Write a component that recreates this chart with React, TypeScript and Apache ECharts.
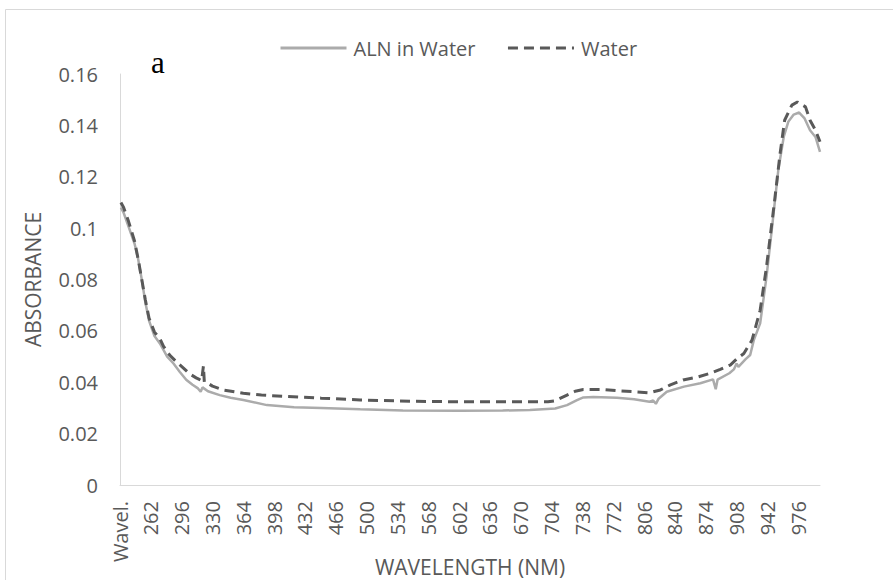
import React, { useEffect, useRef } from "react";
import * as echarts from "echarts";

// Category tick labels (every 34 nm, the first one is the sheet header "Wavel.")
const xTickLabels = [
  "Wavel.", "262", "296", "330", "364", "398", "432", "466", "500", "534", "568",
  "602", "636", "670", "704", "738", "772", "806", "840", "874", "908", "942", "976",
];
const firstTickNm = 228; // position of the "Wavel." category
const tickStepNm = 34;
const lastNm = 1000;

// ALN in Water (solid light grey)
const alnWavelength = [
  229, 232, 238, 244, 248, 252, 256, 260, 266, 272, 280, 287, 294, 301, 308, 314, 317, 319,
  325, 338, 350, 364, 390, 420, 450, 493, 540, 603, 650, 680, 708, 721, 732, 739, 750, 776,
  795, 812, 816, 819, 822, 831, 850, 868, 882, 885, 887, 900, 905, 908, 910, 918, 923, 927,
  934, 941, 948, 954, 960, 965, 971, 977, 983, 989, 995, 1000,
];
const alnAbsorbance = [
  0.108, 0.106, 0.1, 0.094, 0.088, 0.08, 0.071, 0.064, 0.058, 0.0551, 0.05, 0.0473, 0.044,
  0.041, 0.039, 0.0376, 0.0363, 0.038, 0.0365, 0.035, 0.034, 0.0331, 0.0311, 0.0303, 0.03,
  0.0295, 0.029, 0.0289, 0.029, 0.0292, 0.0298, 0.0311, 0.033, 0.0341, 0.0343, 0.034, 0.0334,
  0.0324, 0.0329, 0.0316, 0.0336, 0.0363, 0.0383, 0.0396, 0.0411, 0.0373, 0.041, 0.0435,
  0.045, 0.0473, 0.046, 0.049, 0.0506, 0.0564, 0.0629, 0.081, 0.1031, 0.1226, 0.1355, 0.1414,
  0.1442, 0.145, 0.1427, 0.1381, 0.1355, 0.1297,
];

// Water (dark grey dashed)
const waterWavelength = [
  229, 232, 237, 244, 248, 252, 256, 260, 266, 272, 276, 283, 290, 298, 305, 312, 316, 318,
  320, 321, 324, 330, 342, 364, 384, 410, 450, 493, 550, 600, 650, 700, 708, 721, 730, 739,
  760, 776, 795, 812, 824, 835, 849, 865, 879, 890, 901, 908, 916, 925, 934, 941, 950, 956,
  961, 969, 975, 984, 989, 995, 1000,
];
const waterAbsorbance = [
  0.11, 0.108, 0.1031, 0.095, 0.088, 0.08, 0.072, 0.065, 0.0595, 0.057, 0.054, 0.0505, 0.048,
  0.0455, 0.0432, 0.0417, 0.041, 0.0406, 0.0463, 0.0401, 0.0398, 0.0385, 0.037, 0.0357, 0.035,
  0.0345, 0.0338, 0.0331, 0.0326, 0.0324, 0.0324, 0.0324, 0.0328, 0.035, 0.0365, 0.0372,
  0.0372, 0.0367, 0.0363, 0.0359, 0.037, 0.039, 0.0409, 0.042, 0.0435, 0.045, 0.0467, 0.049,
  0.0512, 0.0564, 0.068, 0.0849, 0.1109, 0.1291, 0.142, 0.1479, 0.1491, 0.1472, 0.142,
  0.1381, 0.1336,
];

const FONT = '"Open Sans", "Liberation Sans", sans-serif';
const TEXT_COLOR = "#595959";

export default function App() {
  const ref = useRef<HTMLDivElement>(null);

  useEffect(() => {
    if (!ref.current) return;
    const chart = echarts.init(ref.current, undefined, { renderer: "svg" });
    const toPairs = (ws: number[], as: number[]) =>
      ws.map((w, i) => [w - firstTickNm, as[i]]);

    chart.setOption({
      animation: false,
      backgroundColor: "#ffffff",
      textStyle: { fontFamily: FONT },
      graphic: [
        {
          type: "rect",
          shape: { x: 5.5, y: 9.5, width: 1200, height: 1200 },
          style: { fill: "none", stroke: "#d9d9d9", lineWidth: 1 },
          silent: true,
        },
        {
          type: "text",
          style: {
            x: 151,
            y: 62,
            text: "a",
            font: '31px "Liberation Serif", serif',
            fill: "#000000",
            verticalAlign: "middle",
          },
        },
      ],
      legend: {
        left: 274,
        top: 33,
        itemWidth: 66,
        itemHeight: 14,
        itemGap: 31,
        itemStyle: { opacity: 0 },
        textStyle: {
          fontFamily: FONT,
          fontSize: 20,
          color: TEXT_COLOR,
          padding: [0, 0, 0, 2],
        },
        data: [
          { name: "ALN in Water", lineStyle: { width: 3, color: "#ababab" } },
          { name: "Water", lineStyle: { width: 3, color: "#595959", type: [10, 6] } },
        ],
      },
      grid: {
        left: 120,
        right: 73,
        top: 74,
        bottom: 95,
        containLabel: false,
        outerBoundsMode: "none",
      },
      xAxis: {
        type: "value",
        min: 0,
        max: lastNm - firstTickNm,
        interval: tickStepNm,
        name: "WAVELENGTH (NM)",
        nameLocation: "middle",
        nameGap: 71,
        nameMoveOverlap: false,
        nameTextStyle: { fontFamily: FONT, fontSize: 21, color: TEXT_COLOR },
        axisLine: { show: true, lineStyle: { color: "#d9d9d9", width: 1 } },
        axisTick: { show: false },
        splitLine: { show: false },
        axisLabel: {
          rotate: 90,
          margin: 16,
          fontFamily: FONT,
          fontSize: 20,
          color: TEXT_COLOR,
          showMaxLabel: false,
          formatter: (v: number) => {
            const idx = Math.round(v / tickStepNm);
            return Math.abs(idx * tickStepNm - v) < 0.01 && xTickLabels[idx] !== undefined
              ? xTickLabels[idx]
              : "";
          },
        },
      },
      yAxis: {
        type: "value",
        min: 0,
        max: 0.16,
        interval: 0.02,
        name: "ABSORBANCE",
        nameLocation: "middle",
        nameGap: 77,
        nameMoveOverlap: false,
        nameTextStyle: { fontFamily: FONT, fontSize: 21, color: TEXT_COLOR },
        axisLine: { show: true, lineStyle: { color: "#d9d9d9", width: 1 } },
        axisTick: { show: false },
        splitLine: { show: false },
        axisLabel: {
          margin: 22,
          fontFamily: FONT,
          fontSize: 20,
          color: TEXT_COLOR,
        },
      },
      series: [
        {
          name: "ALN in Water",
          type: "line",
          symbol: "none",
          data: toPairs(alnWavelength, alnAbsorbance),
          lineStyle: { color: "#ababab", width: 2.5 },
          itemStyle: { color: "#ababab" },
        },
        {
          name: "Water",
          type: "line",
          symbol: "none",
          data: toPairs(waterWavelength, waterAbsorbance),
          lineStyle: { color: "#595959", width: 3, type: [10, 6] },
          itemStyle: { color: "#595959" },
        },
      ],
    });
    return () => chart.dispose();
  }, []);

  return (
    <div
      ref={ref}
      style={{ position: "fixed", left: 0, top: 0, width: 893, height: 580, background: "#fff" }}
    />
  );
}
